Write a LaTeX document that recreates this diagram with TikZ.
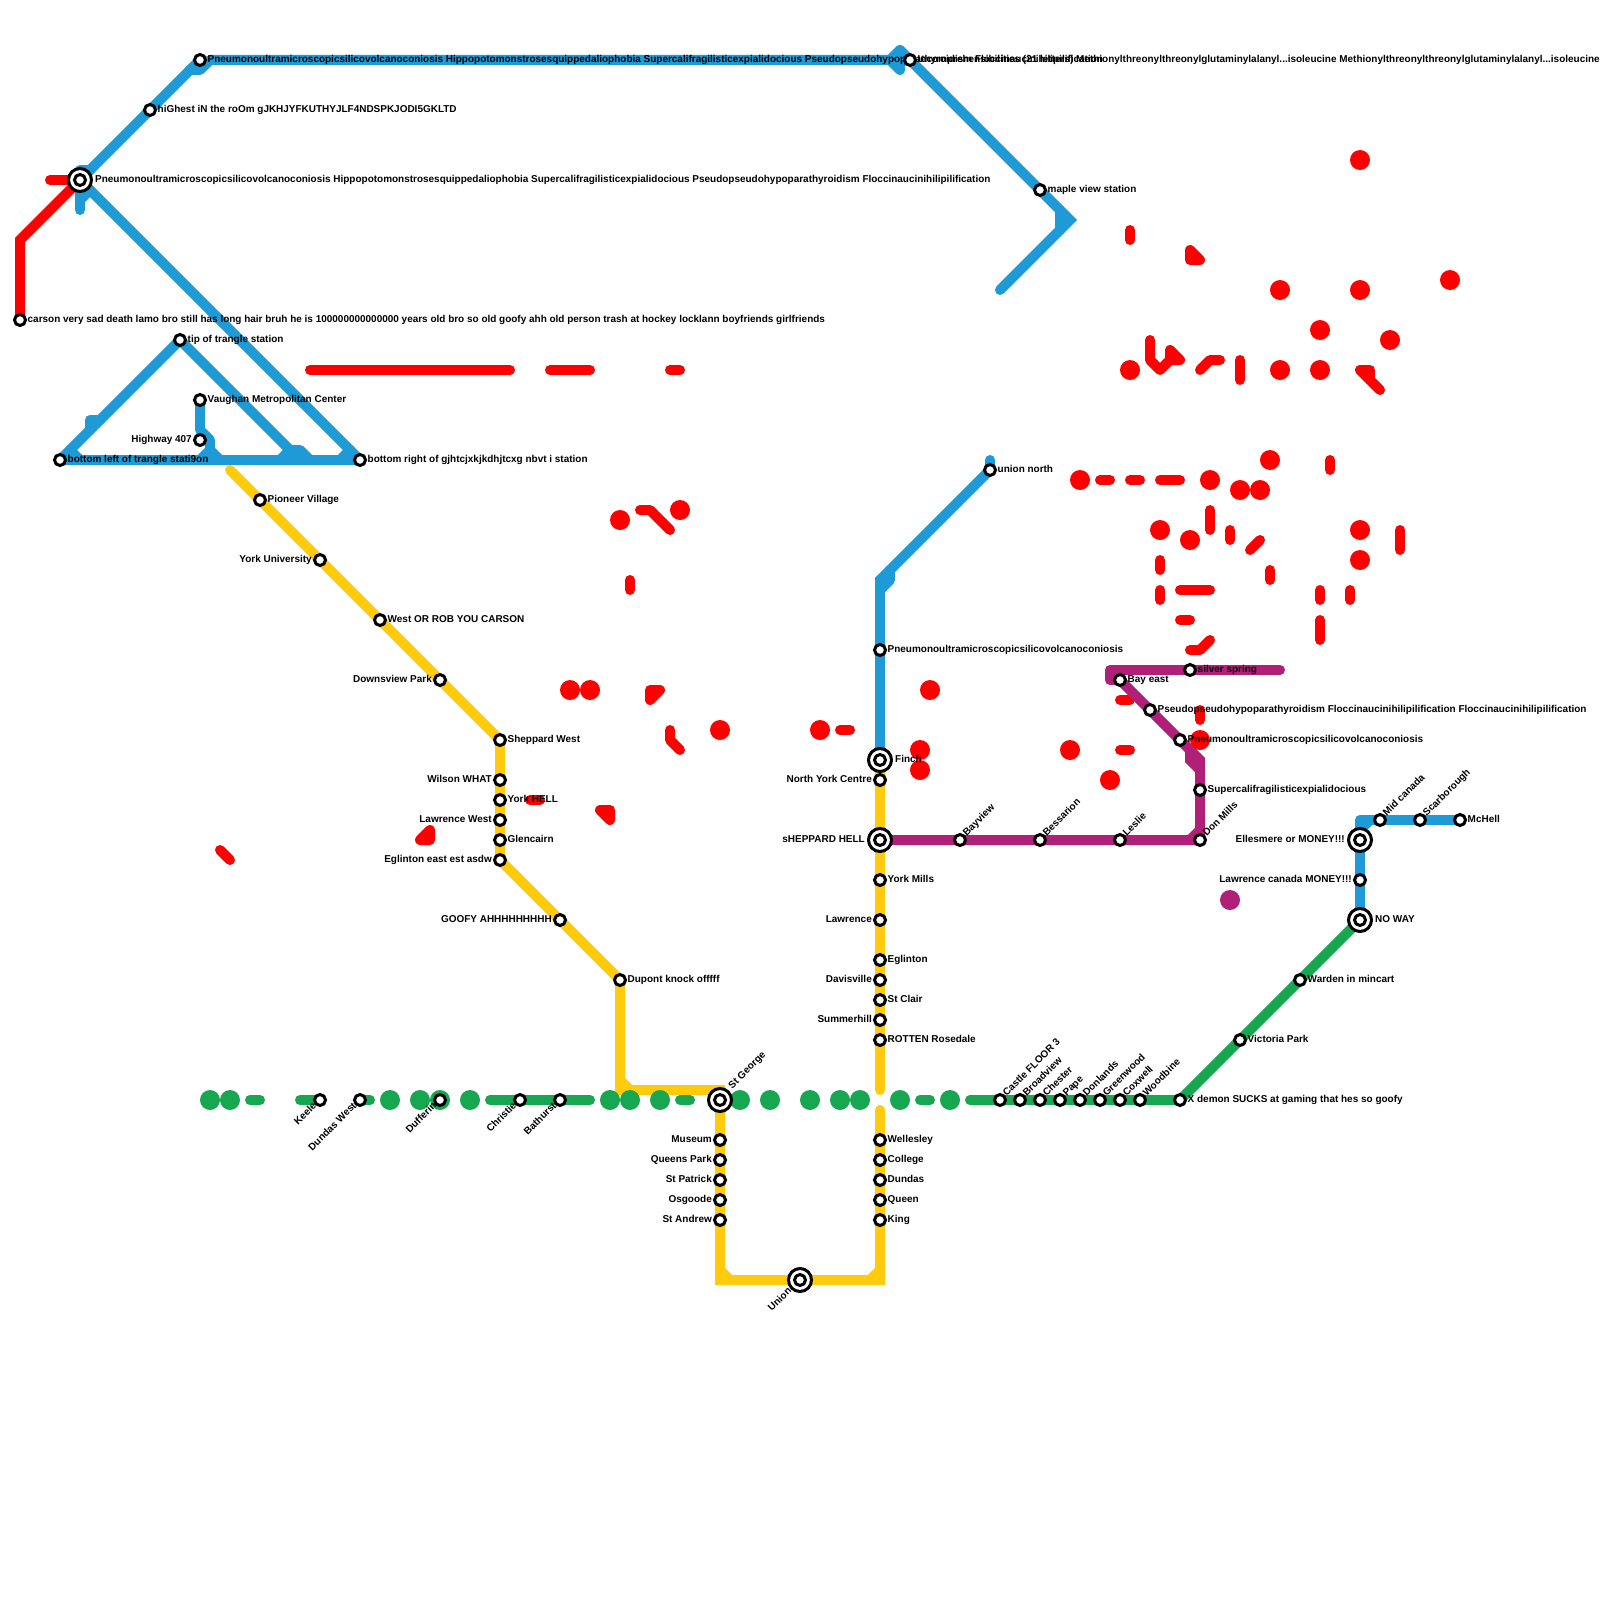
\documentclass[tikz,border=0pt]{standalone}
\usepackage{fontspec}
\setmainfont{Liberation Sans}
\definecolor{lineblue}{HTML}{1E9AD6}
\definecolor{linered}{HTML}{FF0000}
\definecolor{lineyellow}{HTML}{FFCB0C}
\definecolor{linegreen}{HTML}{17A751}
\definecolor{linepurple}{HTML}{B01F78}
\begin{document}
\begin{tikzpicture}[
  x=1pt, y=-1pt,
  line/.style={draw=#1, line width=10pt, line cap=round, line join=round},
  sharp/.style={line join=miter},
  bluel/.style={line=lineblue},
  redl/.style={line=linered},
  yell/.style={line=lineyellow},
  greenl/.style={line=linegreen},
  purpl/.style={line=linepurple},
  reddot/.style={circle, fill=linered, minimum size=20pt, inner sep=0pt},
  greendot/.style={circle, fill=linegreen, minimum size=20pt, inner sep=0pt},
  purpdot/.style={circle, fill=linepurple, minimum size=20pt, inner sep=0pt},
  stn/.style={circle, draw=black, fill=white, line width=3pt, minimum size=11pt, inner sep=0pt},
  stnin/.style={circle, draw=black, fill=white, line width=3pt, minimum size=11pt, inner sep=0pt},
  stnout/.style={circle, draw=black, fill=white, line width=3pt, minimum size=23pt, inner sep=0pt},
  lab/.style={font=\bfseries\fontsize{9.97}{12}\selectfont, inner sep=0pt},
  lr/.style={lab, anchor=base west, xshift=7.5pt, yshift=-2.5pt},
  ll/.style={lab, anchor=base east, xshift=-8pt, yshift=-2.5pt},
  lrb/.style={lab, anchor=base west, xshift=15pt, yshift=-2.5pt},
  llb/.style={lab, anchor=base east, xshift=-15pt, yshift=-2.5pt},
  lup/.style={lab, anchor=base west, rotate=45, xshift=7pt, yshift=-2.5pt},
  ldn/.style={lab, anchor=base east, rotate=45, xshift=-6.7pt, yshift=-2.5pt}
]
\useasboundingbox (0,0) rectangle (1600,1600);

% red
\draw[redl, sharp] (20,320) -- (20,240) -- (80,180);
\draw[redl] (80,180) -- (50,180);
\draw[redl] (310,370) -- (510,370);
\draw[redl] (550,370) -- (590,370);
\draw[redl] (670,370) -- (680,370);
\draw[redl] (1130,230) -- (1130,240);
\draw[redl] (1190,250) -- (1190,260) -- (1200,260) -- cycle;
\draw[redl] (1150,340) -- (1150,360) -- (1160,370) -- (1170,360) -- (1180,360) -- (1170,350) -- (1170,360);
\draw[redl] (1200,370) -- (1210,360) -- (1220,360);
\draw[redl] (1240,360) -- (1240,380);
\draw[redl] (1360,370) -- (1380,390);
\draw[redl] (1360,370) -- (1370,370) -- (1370,380);
\draw[redl] (1330,460) -- (1330,470);
\draw[redl] (1100,480) -- (1110,480);
\draw[redl] (1130,480) -- (1140,480);
\draw[redl] (1160,480) -- (1180,480);
\draw[redl] (1210,510) -- (1210,530);
\draw[redl] (1230,530) -- (1230,540);
\draw[redl] (1250,550) -- (1260,540);
\draw[redl] (1270,570) -- (1270,580);
\draw[redl] (1160,560) -- (1160,570);
\draw[redl] (1160,590) -- (1160,600);
\draw[redl] (1180,590) -- (1210,590);
\draw[redl] (1180,620) -- (1190,620);
\draw[redl] (1190,650) -- (1200,650) -- (1210,640);
\draw[redl] (1320,590) -- (1320,600);
\draw[redl] (1350,590) -- (1350,600);
\draw[redl] (1320,620) -- (1320,640);
\draw[redl] (1400,530) -- (1400,550);
\draw[redl] (1120,700) -- (1130,700);
\draw[redl] (1120,750) -- (1130,750);
\draw[redl] (1200,710) -- (1200,720);
\draw[redl] (840,730) -- (850,730);
\draw[redl] (640,510) -- (650,510) -- (670,530);
\draw[redl] (630,580) -- (630,590);
\draw[redl] (650,690) -- (660,690) -- (650,700) -- cycle;
\draw[redl] (670,730) -- (670,740) -- (680,750);
\draw[redl] (530,800) -- (540,800);
\draw[redl] (600,810) -- (610,810) -- (610,820) -- cycle;
\draw[redl] (420,840) -- (430,840) -- (430,830) -- cycle;
\draw[redl] (220,850) -- (230,860);
\node[reddot] (r1) at (1360,160) {};
\node[reddot] (r2) at (1280,290) {};
\node[reddot] (r3) at (1360,290) {};
\node[reddot] (r4) at (1450,280) {};
\node[reddot] (r5) at (1320,330) {};
\node[reddot] (r6) at (1390,340) {};
\node[reddot] (r7) at (1130,370) {};
\node[reddot] (r8) at (1280,370) {};
\node[reddot] (r9) at (1320,370) {};
\node[reddot] (r10) at (1080,480) {};
\node[reddot] (r11) at (1210,480) {};
\node[reddot] (r12) at (1270,460) {};
\node[reddot] (r13) at (1240,490) {};
\node[reddot] (r14) at (1260,490) {};
\node[reddot] (r15) at (1160,530) {};
\node[reddot] (r16) at (1190,540) {};
\node[reddot] (r17) at (1360,530) {};
\node[reddot] (r18) at (1360,560) {};
\node[reddot] (r19) at (1200,740) {};
\node[reddot] (r20) at (1070,750) {};
\node[reddot] (r21) at (1110,780) {};
\node[reddot] (r22) at (930,690) {};
\node[reddot] (r23) at (920,750) {};
\node[reddot] (r24) at (920,770) {};
\node[reddot] (r25) at (820,730) {};
\node[reddot] (r26) at (720,730) {};
\node[reddot] (r27) at (620,520) {};
\node[reddot] (r28) at (680,510) {};
\node[reddot] (r29) at (570,690) {};
\node[reddot] (r30) at (590,690) {};

% blue
\draw[bluel] (80,210) -- (80,170) -- (90,170);
\draw[bluel] (80,200) -- (90,190);
\draw[bluel] (80,180) -- (200,60);
\draw[bluel] (190,70) -- (200,70) -- (210,60) -- (900,60);
\draw[bluel] (890,60) -- (900,50) -- (900,70) -- cycle;
\draw[bluel, sharp] (900,50) -- (1070,220) -- (1000,290);
\draw[bluel] (1060,210) -- (1060,230);
\draw[bluel] (80,180) -- (360,460) -- (60,460) -- (180,340) -- (300,460);
\draw[bluel] (90,430) -- (90,420) -- (100,420);
\draw[bluel] (70,450) -- (80,460);
\draw[bluel] (200,400) -- (200,430) -- (210,440) -- (210,450) -- (220,460);
\draw[bluel] (200,460) -- (210,450);
\draw[bluel] (280,460) -- (290,450) -- (300,450) -- (310,460);
\draw[bluel] (340,460) -- (350,450);
\draw[bluel, sharp] (880,760) -- (880,580) -- (990,470);
\draw[bluel] (990,470) -- (990,460);
\draw[bluel] (880,590) -- (890,580) -- (890,570);
\draw[bluel] (1360,920) -- (1360,820) -- (1460,820);
\draw[bluel] (1360,830) -- (1370,820);

% yellow
\draw[yell, sharp] (230,470) -- (500,740) -- (500,860) -- (620,980) -- (620,1090) -- (720,1090) -- (720,1280) -- (880,1280) -- (880,1110);
\draw[yell] (880,1090) -- (880,760);
\draw[yell] (620,1080) -- (630,1090);
\draw[yell] (720,1270) -- (730,1280);
\draw[yell] (870,1280) -- (880,1270);

% purple
\draw[purpl, sharp] (880,840) -- (1200,840) -- (1200,760) -- (1120,680);
\draw[purpl] (1120,680) -- (1110,680) -- (1110,670) -- (1280,670);
\draw[purpl, sharp] (1190,750) -- (1190,760) -- (1200,770);
\draw[purpl] (1190,840) -- (1200,830);
\node[purpdot] (p1) at (1230,900) {};

% green
\draw[greenl] (1360,920) -- (1180,1100) -- (970,1100);
\draw[greenl] (250,1100) -- (260,1100);
\draw[greenl] (300,1100) -- (320,1100);
\draw[greenl] (360,1100) -- (370,1100);
\draw[greenl] (490,1100) -- (590,1100);
\draw[greenl] (680,1100) -- (690,1100);
\draw[greenl] (920,1100) -- (930,1100);
\node[greendot] (g1) at (210,1100) {};
\node[greendot] (g2) at (230,1100) {};
\node[greendot] (g3) at (390,1100) {};
\node[greendot] (g4) at (420,1100) {};
\node[greendot] (g5) at (440,1100) {};
\node[greendot] (g6) at (470,1100) {};
\node[greendot] (g7) at (610,1100) {};
\node[greendot] (g8) at (630,1100) {};
\node[greendot] (g9) at (660,1100) {};
\node[greendot] (g10) at (740,1100) {};
\node[greendot] (g11) at (770,1100) {};
\node[greendot] (g12) at (810,1100) {};
\node[greendot] (g13) at (840,1100) {};
\node[greendot] (g14) at (860,1100) {};
\node[greendot] (g15) at (900,1100) {};
\node[greendot] (g16) at (950,1100) {};

% stations
\node[stn] (carson) at (20,320) {}; \node[lr] (carson-t) at (carson) {carson very sad death lamo bro still has long hair bruh he is 100000000000000 years old bro so old goofy ahh old person trash at hockey locklann boyfriends girlfriends};
\node[stnout] (longo) at (80,180) {}; \node[stnin] (long) at (80,180) {}; \node[lrb] (long-t) at (long) {Pneumonoultramicroscopicsilicovolcanoconiosis Hippopotomonstrosesquippedaliophobia Supercalifragilisticexpialidocious Pseudopseudohypoparathyroidism Floccinaucinihilipilification};
\node[stn] (highest) at (150,110) {}; \node[lr] (highest-t) at (highest) {hiGhest iN the roOm gJKHJYFKUTHYJLF4NDSPKJODI5GKLTD};
\node[stn] (top) at (200,60) {}; \node[lr] (top-t) at (top) {Pneumonoultramicroscopicsilicovolcanoconiosis Hippopotomonstrosesquippedaliophobia Supercalifragilisticexpialidocious Pseudopseudohypoparathyroidism Floccinaucinihilipilification};
\node[stn] (titin) at (910,60) {}; \node[lr] (titin-t) at (titin) {Incomprehensibilities (21 letters) Methionylthreonylthreonylglutaminylalanyl...isoleucine Methionylthreonylthreonylglutaminylalanyl...isoleucine};
\node[stn] (maple) at (1040,190) {}; \node[lr] (maple-t) at (maple) {maple view station};
\node[stn] (tip) at (180,340) {}; \node[lr] (tip-t) at (tip) {tip of trangle station};
\node[stn] (vaughan) at (200,400) {}; \node[lr] (vaughan-t) at (vaughan) {Vaughan Metropolitan Center};
\node[stn] (hwy) at (200,440) {}; \node[ll] (hwy-t) at (hwy) {Highway 407};
\node[stn] (botl) at (60,460) {}; \node[lr] (botl-t) at (botl) {bottom left of trangle stati9on};
\node[stn] (botr) at (360,460) {}; \node[lr] (botr-t) at (botr) {bottom right of gjhtcjxkjkdhjtcxg nbvt i station};
\node[stn] (pioneer) at (260,500) {}; \node[lr] (pioneer-t) at (pioneer) {Pioneer Village};
\node[stn] (yorku) at (320,560) {}; \node[ll] (yorku-t) at (yorku) {York University};
\node[stn] (westrob) at (380,620) {}; \node[lr] (westrob-t) at (westrob) {West OR ROB YOU CARSON};
\node[stn] (downsview) at (440,680) {}; \node[ll] (downsview-t) at (downsview) {Downsview Park};
\node[stn] (shepw) at (500,740) {}; \node[lr] (shepw-t) at (shepw) {Sheppard West};
\node[stn] (wilson) at (500,780) {}; \node[ll] (wilson-t) at (wilson) {Wilson WHAT};
\node[stn] (yorkh) at (500,800) {}; \node[lr] (yorkh-t) at (yorkh) {York HELL};
\node[stn] (lawrw) at (500,820) {}; \node[ll] (lawrw-t) at (lawrw) {Lawrence West};
\node[stn] (glen) at (500,840) {}; \node[lr] (glen-t) at (glen) {Glencairn};
\node[stn] (eglw) at (500,860) {}; \node[ll] (eglw-t) at (eglw) {Eglinton east est asdw};
\node[stn] (goofy) at (560,920) {}; \node[ll] (goofy-t) at (goofy) {GOOFY AHHHHHHHHH};
\node[stn] (dupont) at (620,980) {}; \node[lr] (dupont-t) at (dupont) {Dupont knock offfff};
\node[stn] (museum) at (720,1140) {}; \node[ll] (museum-t) at (museum) {Museum};
\node[stn] (queensp) at (720,1160) {}; \node[ll] (queensp-t) at (queensp) {Queens Park};
\node[stn] (stpat) at (720,1180) {}; \node[ll] (stpat-t) at (stpat) {St Patrick};
\node[stn] (osgoode) at (720,1200) {}; \node[ll] (osgoode-t) at (osgoode) {Osgoode};
\node[stn] (standrew) at (720,1220) {}; \node[ll] (standrew-t) at (standrew) {St Andrew};
\node[stnout] (uniono) at (800,1280) {}; \node[stnin] (union) at (800,1280) {}; \node[ldn, xshift=-7pt] (union-t) at (union) {Union};
\node[stnout] (stgeorgeo) at (720,1100) {}; \node[stnin] (stgeorge) at (720,1100) {}; \node[lup, xshift=9pt, yshift=1.3pt] (stgeorge-t) at (stgeorge) {St George};
\node[stnout] (fincho) at (880,760) {}; \node[stnin] (finch) at (880,760) {}; \node[lrb] (finch-t) at (finch) {Finch};
\node[stn] (nyc) at (880,780) {}; \node[ll] (nyc-t) at (nyc) {North York Centre};
\node[stnout] (shepo) at (880,840) {}; \node[stnin] (shep) at (880,840) {}; \node[llb] (shep-t) at (shep) {sHEPPARD HELL};
\node[stn] (yorkm) at (880,880) {}; \node[lr] (yorkm-t) at (yorkm) {York Mills};
\node[stn] (lawr) at (880,920) {}; \node[ll] (lawr-t) at (lawr) {Lawrence};
\node[stn] (egl) at (880,960) {}; \node[lr] (egl-t) at (egl) {Eglinton};
\node[stn] (davis) at (880,980) {}; \node[ll] (davis-t) at (davis) {Davisville};
\node[stn] (stclair) at (880,1000) {}; \node[lr] (stclair-t) at (stclair) {St Clair};
\node[stn] (summer) at (880,1020) {}; \node[ll] (summer-t) at (summer) {Summerhill};
\node[stn] (rosedale) at (880,1040) {}; \node[lr] (rosedale-t) at (rosedale) {ROTTEN Rosedale};
\node[stn] (welles) at (880,1140) {}; \node[lr] (welles-t) at (welles) {Wellesley};
\node[stn] (college) at (880,1160) {}; \node[lr] (college-t) at (college) {College};
\node[stn] (dundas) at (880,1180) {}; \node[lr] (dundas-t) at (dundas) {Dundas};
\node[stn] (queen) at (880,1200) {}; \node[lr] (queen-t) at (queen) {Queen};
\node[stn] (king) at (880,1220) {}; \node[lr] (king-t) at (king) {King};
\node[stn] (pneu) at (880,650) {}; \node[lr] (pneu-t) at (pneu) {Pneumonoultramicroscopicsilicovolcanoconiosis};
\node[stn] (unionn) at (990,470) {}; \node[lr] (unionn-t) at (unionn) {union north};
\node[stn] (bayview) at (960,840) {}; \node[lup] (bayview-t) at (bayview) {Bayview};
\node[stn] (bess) at (1040,840) {}; \node[lup] (bess-t) at (bess) {Bessarion};
\node[stn] (leslie) at (1120,840) {}; \node[lup] (leslie-t) at (leslie) {Leslie};
\node[stn] (donm) at (1200,840) {}; \node[lup] (donm-t) at (donm) {Don Mills};
\node[stn] (super) at (1200,790) {}; \node[lr] (super-t) at (super) {Supercalifragilisticexpialidocious};
\node[stn] (pneue) at (1180,740) {}; \node[lr] (pneue-t) at (pneue) {Pneumonoultramicroscopicsilicovolcanoconiosis};
\node[stn] (pseudo) at (1150,710) {}; \node[lr] (pseudo-t) at (pseudo) {Pseudopseudohypoparathyroidism Floccinaucinihilipilification Floccinaucinihilipilification};
\node[stn] (baye) at (1120,680) {}; \node[lr] (baye-t) at (baye) {Bay east};
\node[stn] (silver) at (1190,670) {}; \node[lr] (silver-t) at (silver) {silver spring};
\node[stn] (midc) at (1380,820) {}; \node[lup] (midc-t) at (midc) {Mid canada};
\node[stn] (scar) at (1420,820) {}; \node[lup] (scar-t) at (scar) {Scarborough};
\node[stn] (mchell) at (1460,820) {}; \node[lr] (mchell-t) at (mchell) {McHell};
\node[stnout] (ellso) at (1360,840) {}; \node[stnin] (ells) at (1360,840) {}; \node[llb] (ells-t) at (ells) {Ellesmere or MONEY!!!};
\node[stn] (lawrc) at (1360,880) {}; \node[ll] (lawrc-t) at (lawrc) {Lawrence canada MONEY!!!};
\node[stnout] (nowayo) at (1360,920) {}; \node[stnin] (noway) at (1360,920) {}; \node[lrb] (noway-t) at (noway) {NO WAY};
\node[stn] (warden) at (1300,980) {}; \node[lr] (warden-t) at (warden) {Warden in mincart};
\node[stn] (vicp) at (1240,1040) {}; \node[lr] (vicp-t) at (vicp) {Victoria Park};
\node[stn] (xdemon) at (1180,1100) {}; \node[lr] (xdemon-t) at (xdemon) {X demon SUCKS at gaming that hes so goofy};
\node[stn] (castle) at (1000,1100) {}; \node[lup] (castle-t) at (castle) {Castle FLOOR 3};
\node[stn] (broad) at (1020,1100) {}; \node[lup] (broad-t) at (broad) {Broadview};
\node[stn] (chester) at (1040,1100) {}; \node[lup] (chester-t) at (chester) {Chester};
\node[stn] (pape) at (1060,1100) {}; \node[lup] (pape-t) at (pape) {Pape};
\node[stn] (donl) at (1080,1100) {}; \node[lup] (donl-t) at (donl) {Donlands};
\node[stn] (green) at (1100,1100) {}; \node[lup] (green-t) at (green) {Greenwood};
\node[stn] (coxw) at (1120,1100) {}; \node[lup] (coxw-t) at (coxw) {Coxwell};
\node[stn] (woodb) at (1140,1100) {}; \node[lup] (woodb-t) at (woodb) {Woodbine};
\node[stn] (keele) at (320,1100) {}; \node[ldn] (keele-t) at (keele) {Keele};
\node[stn] (dundw) at (360,1100) {}; \node[ldn] (dundw-t) at (dundw) {Dundas West};
\node[stn] (duff) at (440,1100) {}; \node[ldn] (duff-t) at (duff) {Dufferin};
\node[stn] (christie) at (520,1100) {}; \node[ldn] (christie-t) at (christie) {Christie};
\node[stn] (bathurst) at (560,1100) {}; \node[ldn] (bathurst-t) at (bathurst) {Bathurst};
\end{tikzpicture}
\end{document}
